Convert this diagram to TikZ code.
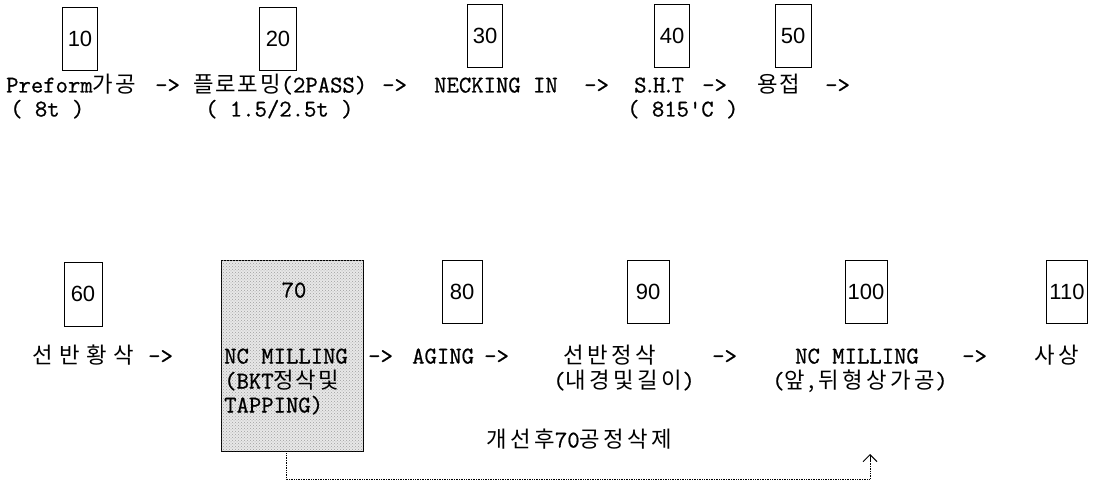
\documentclass[tikz,border=0pt]{standalone}
\usepackage{fontspec}
\setmonofont{Latin Modern Mono}[FakeBold=0.8]
\newfontfamily\kr{Noto Sans CJK KR}[Scale=0.93, LetterSpace=8]
\newfontfamily\krw{Noto Sans CJK KR}[Scale=0.93, LetterSpace=16]
\newfontfamily\krx{Noto Sans CJK KR}[Scale=0.93, LetterSpace=30]
\newfontfamily\nums{Liberation Sans}
\usetikzlibrary{arrows.meta,patterns}
\begin{document}
\begin{tikzpicture}[x=1pt,y=-1pt,
  numbox/.style={draw, line width=0.8pt, inner sep=0pt, minimum width=36pt, minimum height=63pt,
    font=\nums\fontsize{22}{24}\selectfont},
  shadebox/.style={draw, line width=0.8pt, inner sep=0pt, minimum width=142pt, minimum height=191pt,
    fill=gray!18, postaction={pattern=crosshatch dots, pattern color=gray!75}},
  txt/.style={anchor=west, inner sep=0pt, text height=14pt, text depth=3pt,
    font=\ttfamily\fontsize{24}{28}\selectfont},
  link/.style={densely dotted, line width=0.7pt},
  tip/.style={-{Straight Barb[length=7pt,width=14pt,line width=1pt]}}
]
\useasboundingbox (0,0) rectangle (1093,484);
% ---- row 1 boxes
\node[numbox, minimum width=35pt] (b10) at (80,39) {10};
\node[numbox, minimum width=37pt] (b20) at (278,39) {20};
\node[numbox, minimum width=35pt] (b30) at (485,36) {30};
\node[numbox, minimum width=35pt] (b40) at (672,36) {40};
\node[numbox, minimum width=36pt] (b50) at (793,36) {50};
% ---- row 1 texts
\node[txt] (t10) at (6,87) {Preform{\kr 가공}};
\node[txt] (r1a) at (155,87) {->};
\node[txt] (t20) at (193,87) {{\kr 플로포밍}(2PASS)};
\node[txt] (r1b) at (382,87) {->};
\node[txt] (t30) at (434,87) {NECKING IN};
\node[txt] (r1c) at (584,87) {->};
\node[txt] (t40) at (634,87) {S\kern-3pt.\kern-3pt H\kern-3pt.\kern-3pt T};
\node[txt] (r1d) at (702,87) {->};
\node[txt] (t50) at (757,87) {{\kr 용접}};
\node[txt] (r1e) at (825,87) {->};
\node[txt] (s10) at (10,111) {( 8t )};
\node[txt] (s20) at (205,111) {( 1.5/2.5t )};
\node[txt] (s40) at (627,111) {( 815\textquotesingle C )};
% ---- row 2 boxes
\node[numbox, minimum width=38pt, minimum height=64pt] (b60) at (83,294) {60};
\node[shadebox] (b70) at (292,355.5) {};
\node[txt, anchor=center] (n70) at (294,292) {70};
\node[numbox, minimum width=40pt] (b80) at (462,292) {80};
\node[numbox, minimum width=42pt] (b90) at (648,292) {90};
\node[numbox, minimum width=42pt] (b100) at (866,292) {100};
\node[numbox, minimum width=41pt] (b110) at (1067,292) {110};
% ---- row 2 texts
\node[txt] (t60) at (32,358) {{\krx 선반황삭}};
\node[txt] (r2a) at (148,358) {->};
\node[txt] (t70a) at (224,358) {NC MILLING};
\node[txt] (t70b) at (224,383) {(BKT{\kr 정삭및}};
\node[txt] (t70c) at (224,407) {TAPPING)};
\node[txt] (r2b) at (368,358) {->};
\node[txt] (t80) at (412,358) {AGING};
\node[txt] (r2c) at (484,358) {->};
\node[txt] (t90) at (563,358) {{\krw 선반정삭}};
\node[txt] (s90) at (553,383) {({\krw 내경및길이})};
\node[txt] (r2d) at (712,358) {->};
\node[txt] (t100) at (795,358) {NC MILLING};
\node[txt] (s100) at (772,383) {({\krw 앞,뒤형상가공})};
\node[txt] (r2e) at (962,358) {->};
\node[txt] (t110) at (1034,358) {{\krw 사상}};
% ---- note and dotted link
\node[txt] (note) at (486,442) {{\krw 개선후}70{\krw 공정삭제}};
\coordinate (turnA) at (286,479);
\coordinate (turnB) at (870,479);
\coordinate (tipend) at (870,454);
\draw[link] (b70.south -| turnA) -- (turnA) -- (turnB) -- ([yshift=-6pt]tipend);
\draw[tip] ([yshift=-8pt]tipend) -- (tipend);
\end{tikzpicture}
\end{document}
